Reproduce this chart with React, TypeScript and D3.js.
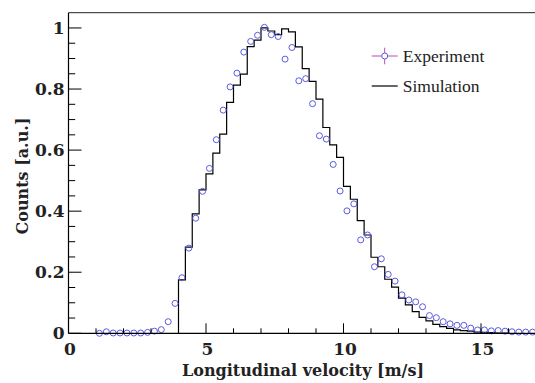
import React, { useMemo } from 'react';
import { scaleLinear, line as d3Line, curveStepAfter } from 'd3';

// experiment: bin centres [m/s] and normalised counts
const expVelocity = [
  1.125, 1.375, 1.625, 1.875, 2.125, 2.375, 2.625, 2.875, 3.125, 3.375, 3.625, 3.875,
  4.125, 4.375, 4.625, 4.875, 5.125, 5.375, 5.625, 5.875, 6.125, 6.375, 6.625, 6.875,
  7.125, 7.375, 7.625, 7.875, 8.125, 8.375, 8.625, 8.875, 9.125, 9.375, 9.625, 9.875,
  10.125, 10.375, 10.625, 10.875, 11.125, 11.375, 11.625, 11.875, 12.125, 12.375, 12.625, 12.875,
  13.125, 13.375, 13.625, 13.875, 14.125, 14.375, 14.625, 14.875, 15.125, 15.375, 15.625, 15.875,
  16.125, 16.375, 16.625, 16.875,
];
const expCounts = [
  0.0, 0.005, 0.001, 0.001, 0.001, 0.001, 0.001, 0.003, 0.007, 0.012, 0.038, 0.098,
  0.182, 0.279, 0.377, 0.465, 0.54, 0.634, 0.731, 0.807, 0.852, 0.921, 0.956, 0.976,
  1.002, 0.978, 0.972, 0.898, 0.936, 0.827, 0.834, 0.752, 0.647, 0.636, 0.553, 0.466,
  0.401, 0.424, 0.306, 0.322, 0.218, 0.244, 0.193, 0.171, 0.126, 0.109, 0.103, 0.087,
  0.058, 0.051, 0.038, 0.031, 0.026, 0.026, 0.017, 0.011, 0.011, 0.008, 0.009, 0.007,
  0.005, 0.004, 0.004, 0.004,
];

// simulation histogram: low bin edges [m/s] and contents (bin width 0.25)
const simBinLow = [
  4.0, 4.25, 4.5, 4.75, 5.0, 5.25, 5.5, 5.75, 6.0, 6.25, 6.5, 6.75,
  7.0, 7.25, 7.5, 7.75, 8.0, 8.25, 8.5, 8.75, 9.0, 9.25, 9.5, 9.75,
  10.0, 10.25, 10.5, 10.75, 11.0, 11.25, 11.5, 11.75, 12.0, 12.25, 12.5, 12.75,
  13.0, 13.25, 13.5, 13.75, 14.0, 14.25, 14.5, 14.75, 15.0, 15.25, 15.5, 15.75,
];
const simCounts = [
  0.175, 0.282, 0.391, 0.47, 0.522, 0.59, 0.652, 0.756, 0.813, 0.849, 0.939, 0.96,
  1.0, 0.99, 0.978, 0.997, 0.987, 0.938, 0.867, 0.825, 0.767, 0.674, 0.617, 0.576,
  0.481, 0.439, 0.369, 0.322, 0.249, 0.218, 0.177, 0.151, 0.115, 0.093, 0.071, 0.052,
  0.041, 0.029, 0.022, 0.016, 0.011, 0.009, 0.007, 0.004, 0.003, 0.002, 0.001, 0.001,
];
const simBinWidth = 0.25;

const xMajorTicks = [0, 5, 10, 15];
const xTickLabels = ['0', '5', '10', '15'];
const xMinorTicks = [1, 2, 3, 4, 6, 7, 8, 9, 11, 12, 13, 14, 16];
const yMajorTicks = [0, 0.2, 0.4, 0.6, 0.8, 1];
const yTickLabels = ['0', '0.2', '0.4', '0.6', '0.8', '1'];
const yMinorTicks = [0.05, 0.1, 0.15, 0.25, 0.3, 0.35, 0.45, 0.5, 0.55, 0.65, 0.7, 0.75, 0.85, 0.9, 0.95];
const legendLabels = ['Experiment', 'Simulation'];

const W = 535;
const H = 383;
const margin = { top: 12.7, right: -1, bottom: 49.7, left: 68.5 };

const expColor = '#5a5ae0';
const errColor = '#b84ab8';
const boldFont = '"DejaVu Serif", serif';
const lightFont = '"Liberation Serif", serif';

export default function App() {
  const x = useMemo(
    () => scaleLinear().domain([0, 17]).range([margin.left, W - margin.right]),
    []
  );
  const y = useMemo(
    () => scaleLinear().domain([0, 1.05]).range([H - margin.bottom, margin.top]),
    []
  );

  const simPath = useMemo(() => {
    const pts: [number, number][] = [[simBinLow[0], 0]];
    simBinLow.forEach((lo, i) => pts.push([lo, simCounts[i]]));
    pts.push([simBinLow[simBinLow.length - 1] + simBinWidth, 0]);
    return (
      d3Line<[number, number]>()
        .x(d => x(d[0]))
        .y(d => y(d[1]))
        .curve(curveStepAfter)(pts) || ''
    );
  }, [x, y]);

  const x0 = x.range()[0];
  const x1 = x.range()[1];
  const yBase = y(0);
  const yTop = y.range()[1];

  // legend placement
  const lgX = 371.7;
  const lgY = [56, 86];
  const lgW = 26;

  return (
    <div style={{ position: 'absolute', left: 0, top: 0, width: W, height: H, background: '#fff' }}>
      <svg width={W} height={H} style={{ display: 'block', overflow: 'hidden' }}>
        <rect x={0} y={0} width={W} height={H} fill="#fff" />

        {/* frame */}
        <line x1={x0} x2={x1} y1={yTop} y2={yTop} stroke="#222" strokeWidth={1} />

        {/* simulation histogram */}
        <path d={simPath} fill="none" stroke="#000" strokeWidth={1.2} strokeLinejoin="miter" />

        {/* experiment markers */}
        {expVelocity.map((v, i) => (
          <circle
            key={i}
            cx={x(v)}
            cy={y(expCounts[i])}
            r={3}
            fill="none"
            stroke={expColor}
            strokeWidth={1}
          />
        ))}

        {/* axes */}
        <line x1={x0} x2={x0} y1={yTop} y2={yBase} stroke="#000" strokeWidth={1.2} />
        <line x1={x0} x2={x1} y1={yBase} y2={yBase} stroke="#000" strokeWidth={1.3} />

        {xMajorTicks.map(t => (
          <line key={'xM' + t} x1={x(t)} x2={x(t)} y1={yBase} y2={yBase - 10} stroke="#000" strokeWidth={1} />
        ))}
        {xMinorTicks.map(t => (
          <line key={'xm' + t} x1={x(t)} x2={x(t)} y1={yBase} y2={yBase - 5} stroke="#000" strokeWidth={1} />
        ))}
        {yMajorTicks.map(t => (
          <line key={'yM' + t} x1={x0} x2={x0 + 13} y1={y(t)} y2={y(t)} stroke="#000" strokeWidth={1} />
        ))}
        {yMinorTicks.map(t => (
          <line key={'ym' + t} x1={x0} x2={x0 + 6.7} y1={y(t)} y2={y(t)} stroke="#000" strokeWidth={1} />
        ))}

        {xMajorTicks.map((t, i) => (
          <text
            key={'xl' + t}
            x={x(t) + 1.5}
            y={yBase + 22}
            textAnchor="middle"
            fontFamily={boldFont}
            fontWeight="bold"
            fontSize={17}
            fill="#222"
          >
            {xTickLabels[i]}
          </text>
        ))}
        {yMajorTicks.map((t, i) => (
          <text
            key={'yl' + t}
            x={64.5}
            y={y(t) + 6}
            textAnchor="end"
            fontFamily={boldFont}
            fontWeight="bold"
            fontSize={17}
            fill="#222"
          >
            {yTickLabels[i]}
          </text>
        ))}

        {/* axis titles */}
        <text
          x={303}
          y={376}
          textAnchor="middle"
          fontFamily={boldFont}
          fontWeight="bold"
          fontSize={16}
          fill="#222"
        >
          Longitudinal velocity [m/s]
        </text>
        <text
          transform={`translate(28,176) rotate(-90)`}
          textAnchor="middle"
          fontFamily={boldFont}
          fontWeight="bold"
          fontSize={16}
          fill="#222"
        >
          Counts [a.u.]
        </text>

        {/* legend */}
        <g>
          <line x1={lgX} x2={lgX + lgW / 2 - 3} y1={lgY[0]} y2={lgY[0]} stroke={errColor} strokeWidth={1} />
          <line x1={lgX + lgW / 2 + 3} x2={lgX + lgW} y1={lgY[0]} y2={lgY[0]} stroke={errColor} strokeWidth={1} />
          <line x1={lgX + lgW / 2} x2={lgX + lgW / 2} y1={lgY[0] - 8.3} y2={lgY[0] - 3} stroke={errColor} strokeWidth={1} />
          <line x1={lgX + lgW / 2} x2={lgX + lgW / 2} y1={lgY[0] + 3} y2={lgY[0] + 8.3} stroke={errColor} strokeWidth={1} />
          <circle cx={lgX + lgW / 2} cy={lgY[0]} r={3} fill="none" stroke={expColor} strokeWidth={1} />
          <line x1={lgX} x2={lgX + lgW} y1={lgY[1]} y2={lgY[1]} stroke="#000" strokeWidth={1.2} />
          {legendLabels.map((l, i) => (
            <text
              key={l}
              x={402.7}
              y={lgY[i] + 5.5}
              fontFamily={lightFont}
              fontSize={17.5}
              fill="#222"
            >
              {l}
            </text>
          ))}
        </g>
      </svg>
    </div>
  );
}
